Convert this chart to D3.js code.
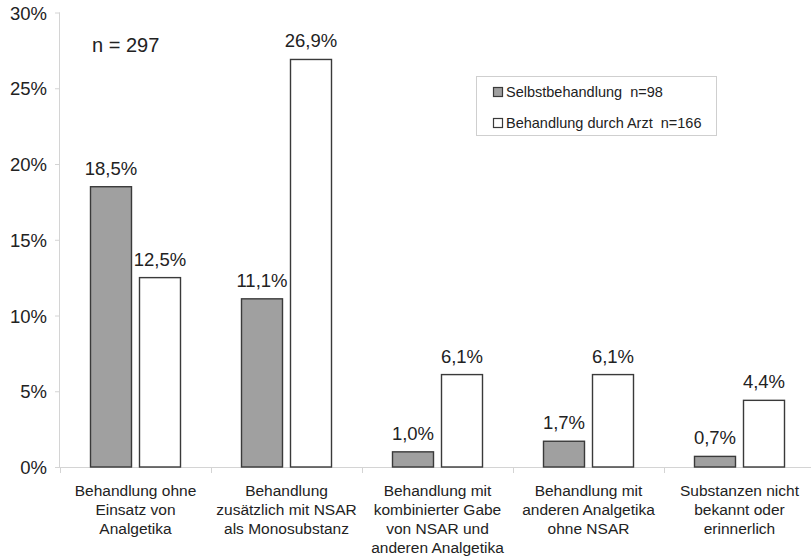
<!DOCTYPE html>
<html>
<head>
<meta charset="utf-8">
<script src="https://cdn.jsdelivr.net/npm/d3@7"></script>
<style>
  html, body { margin: 0; padding: 0; background: #fff; }
  svg { display: block; font-family: "Liberation Sans", Arial, sans-serif; }
</style>
</head>
<body>
<svg id="chart" width="811" height="558"></svg>
<script>
// Therapieformen: Anteil der Patienten (%) je Gruppe
const categories = [
  ["Behandlung ohne", "Einsatz von", "Analgetika"],
  ["Behandlung", "zusätzlich mit NSAR", "als Monosubstanz"],
  ["Behandlung mit", "kombinierter Gabe", "von NSAR und", "anderen Analgetika"],
  ["Behandlung mit", "anderen Analgetika", "ohne NSAR"],
  ["Substanzen nicht", "bekannt oder", "erinnerlich"]
];
const selbstbehandlung = [18.5, 11.1, 1.0, 1.7, 0.7];
const arztbehandlung = [12.5, 26.9, 6.1, 6.1, 4.4];
const seriesNames = ["Selbstbehandlung  n=98", "Behandlung durch Arzt  n=166"];
const yTicks = [0, 5, 10, 15, 20, 25, 30];
const sampleNote = "n = 297";

const svg = d3.select("#chart");
const textColor = "#222";
const axisColor = "#d4d4d4";
const barStroke = "#3a3a3a";
const fills = ["#a0a0a0", "#ffffff"];

const x = d3.scaleBand().domain(d3.range(categories.length)).range([60, 815]).paddingInner(0).paddingOuter(0);
const y = d3.scaleLinear().domain([0, 30]).range([467, 12.5]);

// inner layout of each category band
const bw = x.bandwidth();
const barW = bw * 41 / 151;
const gap = bw * 8 / 151;
const sub = d3.scaleOrdinal().domain([0, 1]).range([(bw - 2 * barW - gap) / 2, (bw - 2 * barW - gap) / 2 + barW + gap]);

// y axis
const yAxis = d3.axisLeft(y).tickValues(yTicks).tickSize(5).tickPadding(8).tickFormat(d => d + "%");
const gy = svg.append("g").attr("transform", "translate(60,0)").call(yAxis);
gy.select(".domain").attr("stroke", axisColor).attr("d", `M-0.5,${y(30)}V${y(0)}`);
gy.selectAll(".tick line").attr("stroke", axisColor);
gy.selectAll(".tick text").attr("fill", textColor).style("font-size", "18.5px").style("font-family", "Liberation Sans, Arial, sans-serif").attr("dy", "0.36em");

// x axis line with category separators
const gx = svg.append("g").attr("transform", `translate(0,${y(0)})`);
gx.append("line").attr("x1", 60).attr("x2", 811).attr("y1", 0.5).attr("y2", 0.5).attr("stroke", axisColor);
gx.selectAll("line.sep").data(d3.range(categories.length)).join("line")
  .attr("class", "sep")
  .attr("x1", d => Math.round(x(d)) + 0.5).attr("x2", d => Math.round(x(d)) + 0.5)
  .attr("y1", 0).attr("y2", 6).attr("stroke", axisColor);

// bars
const series = [selbstbehandlung, arztbehandlung];
series.forEach((vals, s) => {
  const g = svg.append("g");
  g.selectAll("rect").data(vals).join("rect")
    .attr("x", (d, i) => x(i) + sub(s))
    .attr("y", d => y(d))
    .attr("width", barW)
    .attr("height", d => y(0) - y(d))
    .attr("fill", fills[s])
    .attr("stroke", barStroke)
    .attr("stroke-width", 1.4);
  g.selectAll("text").data(vals).join("text")
    .attr("x", (d, i) => x(i) + sub(s) + barW / 2)
    .attr("y", d => y(d) - 12)
    .attr("text-anchor", "middle")
    .attr("fill", textColor)
    .style("font-size", "18.5px")
    .text(d => d.toFixed(1).replace(".", ",") + "%");
});

// category labels
const cat = svg.append("g");
categories.forEach((lines, i) => {
  const t = cat.append("text")
    .attr("x", x(i) + bw / 2)
    .attr("y", 496)
    .attr("text-anchor", "middle")
    .attr("fill", textColor)
    .style("font-size", "15.5px");
  lines.forEach((ln, k) => {
    t.append("tspan").attr("x", x(i) + bw / 2).attr("y", 496 + k * 19).text(ln);
  });
});

// sample size note
svg.append("text").attr("x", 92).attr("y", 52).attr("fill", textColor)
  .style("font-size", "20px").text(sampleNote);

// legend
const lg = svg.append("g");
lg.append("rect").attr("x", 476.5).attr("y", 76.5).attr("width", 240).attr("height", 59)
  .attr("fill", "#fff").attr("stroke", "#cfcfcf");
seriesNames.forEach((name, s) => {
  const cy = 92 + s * 31;
  lg.append("rect").attr("x", 493.5).attr("y", cy - 4.5).attr("width", 9).attr("height", 9)
    .attr("fill", fills[s]).attr("stroke", barStroke).attr("stroke-width", 1.2);
  lg.append("text").attr("x", 506).attr("y", cy + 5).attr("fill", textColor)
    .style("font-size", "14.5px").attr("xml:space", "preserve").style("white-space", "pre").text(name);
});
</script>
</body>
</html>
